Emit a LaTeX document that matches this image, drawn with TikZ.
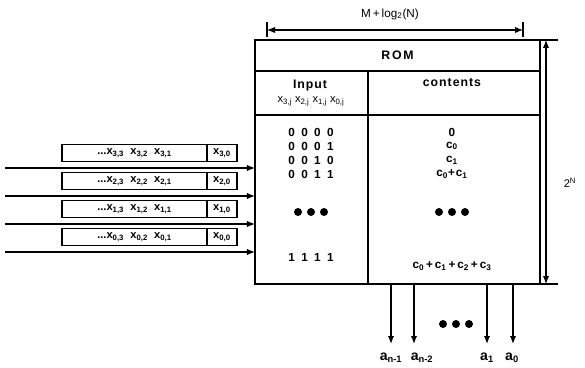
\documentclass[tikz,border=0pt]{standalone}
\usepackage{fontspec}
\setmainfont{Liberation Sans}
\usetikzlibrary{positioning,arrows.meta,calc}
\newcommand{\xsub}[1]{x\textsubscript{#1}}
\newcommand{\csub}[1]{c\textsubscript{#1}}
\newcommand{\asub}[1]{a\textsubscript{#1}}
\newcommand{\bitrow}[4]{#1\hspace{0.55em}#2\hspace{0.55em}#3\hspace{0.55em}#4}
\newcommand{\wide}{\addfontfeature{LetterSpace=8}}
\tikzset{
  cell/.style   ={draw, rectangle, line width=0.9pt, outer sep=0pt, inner sep=0pt},
  inbox/.style  ={draw, rectangle, line width=0.9pt, outer sep=0pt, inner sep=1pt, minimum height=0.51cm, font=\fontsize{9.5}{10}\selectfont\bfseries},
  head/.style   ={font=\fontsize{10.5}{11}\selectfont\bfseries\wide},
  entry/.style  ={font=\fontsize{10}{11}\selectfont\bfseries\wide},
  arr/.style    ={-{Latex[length=2.4mm,width=1.9mm]}, line width=1.1pt},
  dimarr/.style ={{Latex[length=2.4mm,width=1.9mm]}-{Latex[length=2.4mm,width=1.9mm]}, line width=0.9pt},
  tick/.style   ={line width=0.9pt},
}

\begin{document}
\begin{tikzpicture}[x=0.03cm, y=-0.03cm, font=\fontsize{9.5}{10}\selectfont]
  \useasboundingbox (0,0) rectangle (585,368);

  % ROM table
  \node[cell, minimum width=8.55cm, minimum height=0.93cm, head] (title) at (397.5,55.5) {R\hspace{0.15em}O\hspace{0.15em}M};
  \node[cell, anchor=north west, minimum width=3.39cm, minimum height=1.32cm] (inhead) at (title.south west) {};
  \node[cell, anchor=north west, minimum width=5.16cm, minimum height=1.32cm] (conthead) at (inhead.north east) {};
  \node[cell, anchor=north west, minimum width=3.39cm, minimum height=5.07cm] (inbody) at (inhead.south west) {};
  \node[cell, anchor=north west, minimum width=5.16cm, minimum height=5.07cm] (contbody) at (inhead.south east) {};

  \node[head] (inlbl) at (310,86) {Input};
  \node[font=\fontsize{9.5}{10}\selectfont] (invars) at (311,101) {\xsub{3,j}\ \xsub{2,j}\ \xsub{1,j}\ \xsub{0,j}};
  \node[head] (contlbl) at (452,83) {contents};

  \foreach \yy/\bits/\val [count=\i] in {132/0000/0, 146/0001/\csub{0}, 160/0010/\csub{1}, 174/0011/\csub{0}+\csub{1}}{
    \node[entry] (bits\i) at (311,\yy) {\expandafter\bitrow\bits};
    \node[entry] (val\i) at (452,\yy) {\val};
  }
  \node[entry] (bitslast) at (311,257) {\bitrow 1111};
  \node[entry] (vallast) at (452,266) {\csub{0}\,+\,\csub{1}\,+\,\csub{2}\,+\,\csub{3}};

  % dots
  \foreach \dx in {-13,0,13}{
    \fill (311+\dx,212) circle (0.12cm);
    \fill (452+\dx,212) circle (0.12cm);
    \fill (456+\dx,324) circle (0.12cm);
  }

  % input words
  \foreach \k/\yy in {3/153, 2/181, 1/209, 0/237}{
    \node[inbox, minimum width=4.35cm, align=right] (word\k) at (134.5,\yy) {\hfill...\xsub{\k,3}\ \ \xsub{\k,2}\ \ \xsub{\k,1}};
    \node[inbox, minimum width=0.9cm, right=0pt of word\k] (bit\k) {\xsub{\k,0}};
    \coordinate (src\k) at (5,\yy+15);
    \draw[arr] (src\k) -- (src\k -| inbody.west);
  }

  % outputs
  \foreach \xx/\nm/\lbl/\lx in {391/an1/\asub{n-1}/391, 414/an2/\asub{n-2}/422, 487/a1/\asub{1}/487, 513/a0/\asub{0}/512}{
    \coordinate (o\nm) at (\xx,344);
    \draw[arr] (contbody.south -| o\nm) -- (o\nm);
    \node[font=\fontsize{12}{13}\selectfont\bfseries] (l\nm) at (\lx,358) {\lbl};
  }

  % width dimension
  \coordinate (wl) at (267,30);
  \coordinate (wr) at (523,30);
  \draw[tick] ($(wl)+(0,-8)$) -- ($(wl)+(0,7)$);
  \draw[tick] ($(wr)+(0,-8)$) -- ($(wr)+(0,7)$);
  \draw[dimarr] (wl) -- (wr);
  \node[font=\fontsize{10}{11}\selectfont] (wlbl) at (390,14) {M\,+\,log\textsubscript{2}(N)};

  % height dimension
  \coordinate (ht) at (546,40);
  \coordinate (hb) at (546,284);
  \draw[tick] ($(ht)+(-11,0)$) -- ($(ht)+(12,0)$);
  \draw[tick] ($(hb)+(-11,0)$) -- ($(hb)+(12,0)$);
  \draw[dimarr] (ht) -- (hb);
  \node (hlbl) at (570,183) {2\textsuperscript{N}};
\end{tikzpicture}
\end{document}
